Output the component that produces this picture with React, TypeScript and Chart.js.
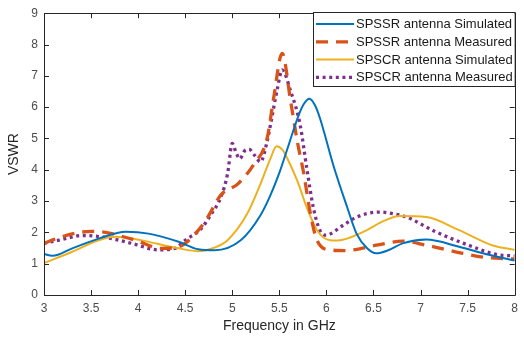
import React, { useEffect, useRef } from "react";
import { Chart, registerables } from "chart.js";

Chart.register(...registerables);

const seriesLabels = [
  "SPSSR antenna Simulated",
  "SPSSR antenna Measured",
  "SPSCR antenna Simulated",
  "SPSCR antenna Measured",
];

const xTicks = [3, 3.5, 4, 4.5, 5, 5.5, 6, 6.5, 7, 7.5, 8];
const yTicks = [0, 1, 2, 3, 4, 5, 6, 7, 8, 9];

const ssrSimF = [3.0, 3.09, 3.3, 3.58, 3.87, 4.11, 4.43, 4.64, 4.81, 5.09, 5.3, 5.4, 5.5, 5.6, 5.7, 5.76, 5.82, 5.88, 5.93, 6.08, 6.22, 6.32, 6.43, 6.53, 6.65, 6.81, 7.06, 7.41, 7.7, 8.0];
const ssrSimV = [1.31, 1.25, 1.49, 1.8, 2.02, 1.96, 1.7, 1.46, 1.43, 1.75, 2.55, 3.15, 3.9, 4.8, 5.7, 6.1, 6.27, 6.05, 5.66, 4.08, 2.81, 1.96, 1.5, 1.33, 1.42, 1.65, 1.77, 1.54, 1.3, 1.1];

const ssrMeasF = [3.0, 3.13, 3.34, 3.5, 3.65, 3.97, 4.25, 4.43, 4.64, 4.74, 4.88, 5.06, 5.23, 5.37, 5.44, 5.53, 5.62, 5.69, 5.76, 5.83, 5.9, 6.04, 6.2, 6.53, 6.81, 7.06, 7.37, 7.69, 8.0];
const ssrMeasV = [1.65, 1.8, 1.98, 2.03, 2.0, 1.75, 1.49, 1.54, 2.07, 2.49, 3.2, 3.55, 4.18, 5.0, 6.3, 7.72, 6.19, 4.92, 3.87, 2.6, 1.75, 1.44, 1.42, 1.59, 1.72, 1.59, 1.38, 1.2, 1.15];

const scrSimF = [3.0, 3.3, 3.58, 3.76, 3.95, 4.08, 4.43, 4.64, 4.8, 4.95, 5.16, 5.3, 5.41, 5.47, 5.53, 5.58, 5.69, 5.79, 5.9, 6.04, 6.12, 6.22, 6.43, 6.6, 6.78, 7.06, 7.41, 7.76, 8.0];
const scrSimV = [1.02, 1.38, 1.75, 1.86, 1.8, 1.72, 1.49, 1.4, 1.5, 1.75, 2.6, 3.55, 4.39, 4.75, 4.65, 4.39, 3.65, 2.81, 2.07, 1.75, 1.74, 1.8, 2.07, 2.35, 2.52, 2.49, 2.07, 1.59, 1.44];

const scrMeasF = [3.0, 3.16, 3.41, 3.65, 3.93, 4.22, 4.39, 4.5, 4.67, 4.78, 4.88, 4.95, 5.0, 5.04, 5.08, 5.13, 5.18, 5.24, 5.3, 5.37, 5.41, 5.48, 5.53, 5.62, 5.72, 5.79, 5.86, 5.93, 5.99, 6.18, 6.29, 6.43, 6.57, 6.7, 6.85, 7.16, 7.51, 7.83, 8.0];
const scrMeasV = [1.65, 1.75, 1.9, 1.84, 1.65, 1.44, 1.49, 1.75, 2.12, 2.6, 3.13, 3.87, 4.84, 4.55, 4.35, 4.6, 4.65, 4.45, 4.25, 4.9, 5.5, 6.6, 7.19, 6.51, 5.45, 4.08, 2.81, 2.07, 1.91, 2.23, 2.44, 2.6, 2.65, 2.6, 2.49, 2.02, 1.59, 1.28, 1.25];

const toPoints = (f: number[], v: number[]) => f.map((x, i) => ({ x, y: v[i] }));

const FONT = "'Liberation Sans', Arial, sans-serif";
const FRAME = "#262626";

const framePlugin = {
  id: "frameAndLegend",
  afterDatasetsDraw(chart: any) {
    const { ctx, chartArea } = chart;
    const { left, right, top, bottom } = chartArea;
    const xs = chart.scales.x;
    const ys = chart.scales.y;
    ctx.save();
    ctx.strokeStyle = FRAME;
    ctx.lineWidth = 1;
    ctx.setLineDash([]);
    ctx.beginPath();
    ctx.rect(Math.round(left) + 0.5, Math.round(top) + 0.5, Math.round(right - left), Math.round(bottom - top));
    ctx.stroke();
    const tl = 5;
    ctx.beginPath();
    xTicks.forEach((t) => {
      const px = Math.round(xs.getPixelForValue(t)) + 0.5;
      ctx.moveTo(px, bottom);
      ctx.lineTo(px, bottom - tl);
      ctx.moveTo(px, top);
      ctx.lineTo(px, top + tl);
    });
    yTicks.forEach((t) => {
      const py = Math.round(ys.getPixelForValue(t)) + 0.5;
      ctx.moveTo(left, py);
      ctx.lineTo(left + tl, py);
      ctx.moveTo(right, py);
      ctx.lineTo(right - tl, py);
    });
    ctx.stroke();

    // legend
    const bx = 313, by = 12, bw = right - 313, bh = 74;
    ctx.fillStyle = "#ffffff";
    ctx.fillRect(bx, by, bw, bh);
    ctx.strokeStyle = FRAME;
    ctx.strokeRect(bx + 0.5, by + 0.5, bw, bh);
    chart.data.datasets.forEach((ds: any, i: number) => {
      const cy = 24 + i * 17.8;
      ctx.beginPath();
      ctx.strokeStyle = ds.borderColor;
      ctx.lineWidth = ds.borderWidth;
      ctx.setLineDash(ds.borderDash || []);
      ctx.lineCap = "butt";
      ctx.moveTo(316, cy);
      ctx.lineTo(354, cy);
      ctx.stroke();
      ctx.setLineDash([]);
      ctx.fillStyle = "#1a1a1a";
      ctx.font = `13px ${FONT}`;
      ctx.textBaseline = "middle";
      ctx.textAlign = "left";
      ctx.fillText(ds.label, 356, cy + 0.5);
    });
    ctx.restore();
  },
};

export default function App() {
  const ref = useRef<HTMLCanvasElement | null>(null);
  useEffect(() => {
    if (!ref.current) return;
    const chart = new Chart(ref.current, {
      type: "line",
      data: {
        datasets: [
          {
            label: seriesLabels[0],
            data: toPoints(ssrSimF, ssrSimV),
            borderColor: "#0072BD",
            borderWidth: 2,
            pointRadius: 0,
            cubicInterpolationMode: "monotone",
            fill: false,
          },
          {
            label: seriesLabels[1],
            data: toPoints(ssrMeasF, ssrMeasV),
            borderColor: "#D95319",
            borderWidth: 3.3,
            borderDash: [12, 8],
            pointRadius: 0,
            cubicInterpolationMode: "monotone",
            fill: false,
          },
          {
            label: seriesLabels[2],
            data: toPoints(scrSimF, scrSimV),
            borderColor: "#EDB120",
            borderWidth: 2,
            pointRadius: 0,
            cubicInterpolationMode: "monotone",
            fill: false,
          },
          {
            label: seriesLabels[3],
            data: toPoints(scrMeasF, scrMeasV),
            borderColor: "#7E2F8E",
            borderWidth: 3.3,
            borderDash: [3, 3.6],
            pointRadius: 0,
            cubicInterpolationMode: "monotone",
            fill: false,
          },
        ],
      },
      plugins: [framePlugin],
      options: {
        responsive: false,
        animation: false,
        layout: { padding: { top: 11, right: 4, left: 0, bottom: 0 } },
        plugins: { legend: { display: false }, tooltip: { enabled: false } },
        scales: {
          x: {
            type: "linear",
            min: 3,
            max: 8,
            afterBuildTicks: (s: any) => {
              s.ticks = xTicks.map((v) => ({ value: v }));
            },
            afterFit: (s: any) => {
              s.height = 43;
            },
            grid: { display: false, drawTicks: false },
            border: { display: false },
            ticks: {
              color: "#4d4d4d",
              font: { family: FONT, size: 12 },
              padding: 6,
              maxRotation: 0,
              autoSkip: false,
              callback: (v: any) => String(v),
            },
            title: {
              display: true,
              text: "Frequency in GHz",
              color: "#262626",
              font: { family: FONT, size: 14 },
              padding: { top: 0, bottom: 3 },
            },
          },
          y: {
            type: "linear",
            min: 0,
            max: 9,
            afterBuildTicks: (s: any) => {
              s.ticks = yTicks.map((v) => ({ value: v }));
            },
            afterFit: (s: any) => {
              s.width = 44;
            },
            grid: { display: false, drawTicks: false },
            border: { display: false },
            ticks: {
              color: "#4d4d4d",
              font: { family: FONT, size: 12 },
              padding: 6,
              autoSkip: false,
              callback: (v: any) => String(v),
            },
            title: {
              display: true,
              text: "VSWR",
              color: "#262626",
              font: { family: FONT, size: 14 },
              padding: { top: 6, bottom: 0 },
            },
          },
        },
      },
    });
    return () => chart.destroy();
  }, []);
  return (
    <div style={{ position: "fixed", left: 0, top: 0, width: 524, height: 338, background: "#fff" }}>
      <canvas ref={ref} width={524} height={338} style={{ display: "block" }} />
    </div>
  );
}
